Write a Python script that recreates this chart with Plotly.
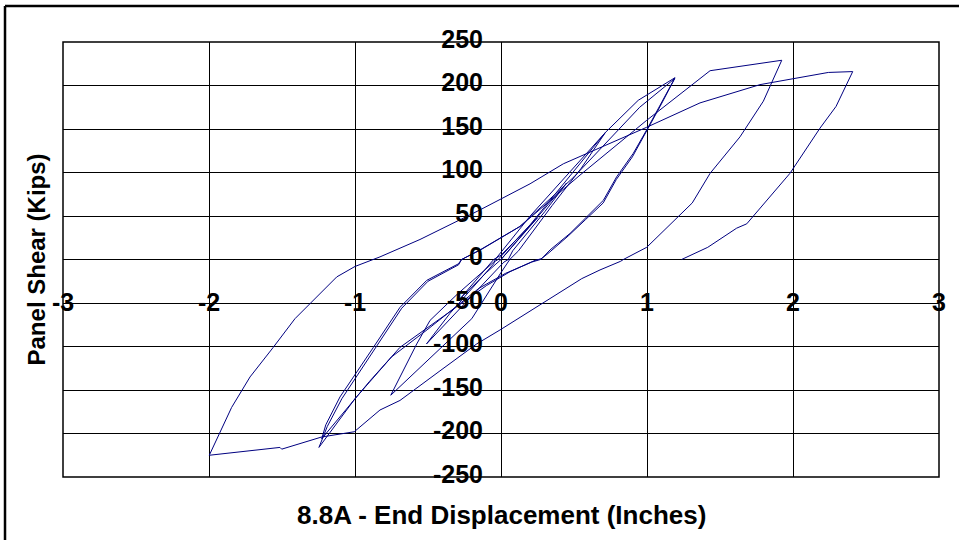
import plotly.graph_objects as go

# ---------------- data ----------------
x_ticks = [-3, -2, -1, 0, 1, 2, 3]
x_tick_labels = ["-3", "-2", "-1", "0", "1", "2", "3"]
y_ticks = [-250, -200, -150, -100, -50, 0, 50, 100, 150, 200, 250]
y_tick_labels = ["-250", "-200", "-150", "-100", "-50", "0", "50", "100", "150", "200", "250"]

# small elastic cycles around the origin
small_disp = [0.0, 0.25, 0.1, 0.0, -0.05, -0.28, -0.1, 0.0,
              0.45, 0.3, 0.08, 0.05, 0.02, -0.51, -0.35, -0.05, -0.04,
              0.2, 0.715, 0.55, 0.35, 0.12, 0.06, 0.0, -0.2, -0.755,
              -0.577, -0.486, -0.3, -0.05, -0.02, 0.2, 0.715, 0.94, 1.192]
small_shear = [0, 48, 22, 5, 0, -45, -15, 0,
               88, 55, 10, 0, -3, -97, -62, -5, 0,
               50, 146, 105, 62, 10, 0, -15, -68, -156,
               -97, -70, -40, -3, 0, 40, 146, 183, 209]

# first 1.2 in. cycle
c1_disp = [1.1, 0.998, 0.906, 0.792, 0.701, 0.587, 0.473, 0.336, 0.279, 0.233,
           0.062, -0.1, -0.463, -0.692, -0.9, -1.228,
           -1.2, -1.103, -0.874, -0.783, -0.692, -0.509, -0.292, -0.27, -0.144,
           0.13, 0.5, 0.95, 1.19]
c1_shear = [180, 149, 122, 95, 68, 49, 30, 11, 1, -1,
            -14, -30, -74, -101, -140, -206,
            -190, -158, -101, -78, -55, -24, -5, 0, 11,
            38, 95, 175, 208]

# second 1.2 in. cycle
c2_disp = [1.09, 0.99, 0.9, 0.79, 0.7, 0.58, 0.46, 0.33, 0.27, 0.21,
           0.03, -0.15, -0.5, -0.75, -1.0, -1.247,
           -1.19, -1.09, -0.86, -0.77, -0.68, -0.5, -0.29, -0.27, -0.14,
           0.13, 0.541, 0.998, 1.432, 1.923]
c2_shear = [176, 145, 118, 92, 65, 46, 27, 8, 0, -3,
            -16, -33, -80, -112, -160, -216,
            -192, -160, -102, -79, -56, -25, -6, 0, 11,
            38, 97, 160, 217, 229]

# 2 in. cycle
c3_disp = [1.797, 1.637, 1.432, 1.31, 0.998, 0.838, 0.82, 0.678, 0.553,
           -0.007, -0.166, -0.418, -0.692, -0.829, -1.005, -1.228, -1.502, -1.514, -1.998,
           -1.845, -1.719, -1.56, -1.411, -1.125, -1.0, -0.829, -0.555, -0.144,
           0.199, 0.427, 0.998, 1.363, 1.774, 2.242, 2.409]
c3_shear = [182, 141, 99, 65, 14, 0, -2, -12, -22,
            -81, -97, -128, -162, -173, -198, -204, -218, -216, -225,
            -170, -135, -101, -68, -20, -8, 3, 23, 57,
            87, 110, 152, 180, 201, 215, 216]

# final unloading
c4_disp = [2.295, 2.185, 1.979, 1.683, 1.614, 1.416, 1.237]
c4_shear = [176, 151, 99, 41, 36, 14, 0]

disp = small_disp + c1_disp + c2_disp + c3_disp + c4_disp
shear = small_shear + c1_shear + c2_shear + c3_shear + c4_shear

# ---------------- figure ----------------
fig = go.Figure()
fig.add_trace(go.Scatter(x=disp, y=shear, mode="lines",
                         line=dict(color="#000080", width=1),
                         hoverinfo="skip"))

FONT = "Liberation Sans, Arial, sans-serif"
tick_font = dict(family=FONT, size=25, color="black", weight="bold")

fig.update_layout(
    width=959, height=540,
    margin=dict(l=63, r=20, t=42, b=63),
    paper_bgcolor="white", plot_bgcolor="white",
    showlegend=False,
    xaxis=dict(range=[-3, 3], tickvals=x_ticks, ticktext=x_tick_labels,
               showgrid=True, gridcolor="black", gridwidth=1,
               zeroline=False, showline=False, ticks="",
               anchor="free", position=0.5, side="bottom",
               ticklabelstandoff=25, tickfont=tick_font, fixedrange=True),
    yaxis=dict(range=[-250, 250], tickvals=y_ticks, ticktext=y_tick_labels,
               showgrid=True, gridcolor="black", gridwidth=1,
               zeroline=False, showline=False, ticks="",
               anchor="free", position=0.5, side="left",
               ticklabelstandoff=18, ticklabelshift=-3,
               tickfont=tick_font, fixedrange=True),
    shapes=[
        dict(type="rect", xref="paper", yref="paper", x0=0, x1=1, y0=0, y1=1,
             line=dict(color="black", width=1.5), layer="above"),
        dict(type="line", xref="paper", yref="paper",
             x0=-0.0662, x1=-0.0662, y0=1.0828, y1=-0.3,
             line=dict(color="black", width=2.5)),
        dict(type="line", xref="paper", yref="paper",
             x0=-0.0662, x1=1.1, y0=1.0828, y1=1.0828,
             line=dict(color="black", width=2.5)),
    ],
    annotations=[
        dict(text="<b>8.8A - End Displacement (Inches)</b>", xref="paper", yref="paper",
             x=0.5, y=-0.0874, xanchor="center", yanchor="middle", showarrow=False,
             font=dict(family=FONT, size=26, color="black")),
        dict(text="<b>Panel Shear (Kips)</b>", xref="paper", yref="paper",
             x=-0.0297, y=0.5, xanchor="center", yanchor="middle", showarrow=False,
             textangle=-90,
             font=dict(family=FONT, size=24, color="black")),
    ],
)

fig.write_html("out.html")
